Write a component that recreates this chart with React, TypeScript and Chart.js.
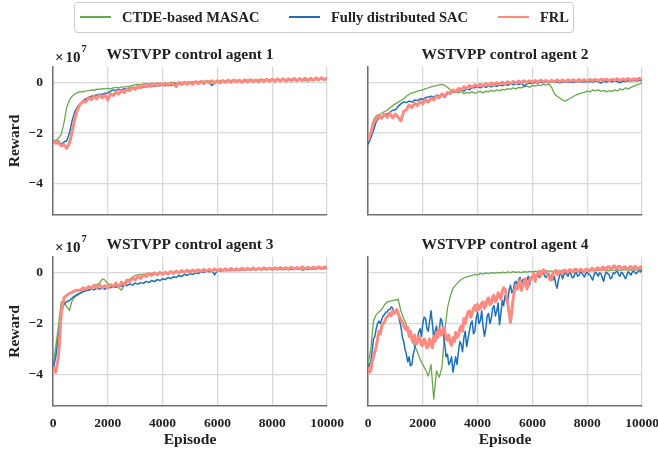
import React, { useEffect, useRef } from "react";
import { Chart, registerables } from "chart.js";
Chart.register(...registerables);

const FONT = "'Liberation Serif', 'Times New Roman', serif";

// Episode axis, every 100 episodes
const EPISODES = [
  0, 100, 200, 300, 400, 500, 600, 700, 800, 900,
  1000, 1100, 1200, 1300, 1400, 1500, 1600, 1700, 1800, 1900,
  2000, 2100, 2200, 2300, 2400, 2500, 2600, 2700, 2800, 2900,
  3000, 3100, 3200, 3300, 3400, 3500, 3600, 3700, 3800, 3900,
  4000, 4100, 4200, 4300, 4400, 4500, 4600, 4700, 4800, 4900,
  5000, 5100, 5200, 5300, 5400, 5500, 5600, 5700, 5800, 5900,
  6000, 6100, 6200, 6300, 6400, 6500, 6600, 6700, 6800, 6900,
  7000, 7100, 7200, 7300, 7400, 7500, 7600, 7700, 7800, 7900,
  8000, 8100, 8200, 8300, 8400, 8500, 8600, 8700, 8800, 8900,
  9000, 9100, 9200, 9300, 9400, 9500, 9600, 9700, 9800, 9900,
  10000,
];
// Episode axis, every 50 episodes (agent 4, noisier curves)
const EPISODES_FINE = [
  0, 50, 100, 150, 200, 250, 300, 350, 400, 450,
  500, 550, 600, 650, 700, 750, 800, 850, 900, 950,
  1000, 1050, 1100, 1150, 1200, 1250, 1300, 1350, 1400, 1450,
  1500, 1550, 1600, 1650, 1700, 1750, 1800, 1850, 1900, 1950,
  2000, 2050, 2100, 2150, 2200, 2250, 2300, 2350, 2400, 2450,
  2500, 2550, 2600, 2650, 2700, 2750, 2800, 2850, 2900, 2950,
  3000, 3050, 3100, 3150, 3200, 3250, 3300, 3350, 3400, 3450,
  3500, 3550, 3600, 3650, 3700, 3750, 3800, 3850, 3900, 3950,
  4000, 4050, 4100, 4150, 4200, 4250, 4300, 4350, 4400, 4450,
  4500, 4550, 4600, 4650, 4700, 4750, 4800, 4850, 4900, 4950,
  5000, 5050, 5100, 5150, 5200, 5250, 5300, 5350, 5400, 5450,
  5500, 5550, 5600, 5650, 5700, 5750, 5800, 5850, 5900, 5950,
  6000, 6050, 6100, 6150, 6200, 6250, 6300, 6350, 6400, 6450,
  6500, 6550, 6600, 6650, 6700, 6750, 6800, 6850, 6900, 6950,
  7000, 7050, 7100, 7150, 7200, 7250, 7300, 7350, 7400, 7450,
  7500, 7550, 7600, 7650, 7700, 7750, 7800, 7850, 7900, 7950,
  8000, 8050, 8100, 8150, 8200, 8250, 8300, 8350, 8400, 8450,
  8500, 8550, 8600, 8650, 8700, 8750, 8800, 8850, 8900, 8950,
  9000, 9050, 9100, 9150, 9200, 9250, 9300, 9350, 9400, 9450,
  9500, 9550, 9600, 9650, 9700, 9750, 9800, 9850, 9900, 9950,
  10000,
];
const X_TICKS = [0, 2000, 4000, 6000, 8000, 10000];
const Y_TICKS = [-4, -2, 0];
const SERIES_NAMES = ["CTDE-based MASAC", "Fully distributed SAC", "FRL"];
const SERIES_COLORS = ["#6aa84f", "#1d6fb8", "#ff8a80"];
const SERIES_WIDTHS = [1.3, 1.5, 3];
const PANEL_TITLES = [
  "WSTVPP control agent 1",
  "WSTVPP control agent 2",
  "WSTVPP control agent 3",
  "WSTVPP control agent 4",
];

// Reward values in units of 1e7
const A1_MASAC = [
  -2.25, -2.3, -2.2, -2.05, -1.6, -1.0, -0.7, -0.55, -0.46, -0.4,
  -0.37, -0.38, -0.34, -0.33, -0.3, -0.32, -0.27, -0.28, -0.25, -0.26,
  -0.24, -0.26, -0.22, -0.2, -0.22, -0.19, -0.18, -0.17, -0.15, -0.12,
  -0.1, -0.08, -0.1, -0.06, -0.05, -0.07, -0.04, -0.05, -0.03, -0.06,
  -0.04, -0.02, -0.05, -0.03, -0.01, -0.04, -0.02, 0, -0.02, 0.01,
  -0.01, 0.02, 0, 0.03, 0.01, 0.04, 0.02, 0.05, 0.02, 0.04,
  0.03, 0.05, 0.03, 0.06, 0.04, 0.07, 0.05, 0.08, 0.05, 0.07,
  0.06, 0.09, 0.05, 0.08, 0.06, 0.09, 0.07, 0.1, 0.06, 0.09,
  0.08, 0.11, 0.07, 0.1, 0.08, 0.11, 0.09, 0.06, 0.1, 0.08,
  0.12, 0.09, 0.05, 0.1, 0.08, 0.11, 0.09, 0.12, 0.1, 0.13,
  0.11,
];
const A1_SAC = [
  -2.3, -2.4, -2.3, -2.45, -2.35, -2.3, -2.0, -1.5, -1.15, -0.95,
  -0.85, -0.72, -0.65, -0.6, -0.55, -0.52, -0.5, -0.47, -0.48, -0.43,
  -0.42, -0.35, -0.3, -0.32, -0.28, -0.3, -0.25, -0.27, -0.22, -0.25,
  -0.2, -0.22, -0.18, -0.2, -0.15, -0.18, -0.13, -0.16, -0.12, -0.14,
  -0.08, -0.14, -0.06, -0.13, -0.04, -0.11, -0.03, -0.09, -0.01, -0.08,
  0, -0.06, 0.02, -0.05, 0.03, -0.04, 0.04, -0.02, -0.13, 0.01,
  0.04, -0.01, 0.06, 0, 0.07, 0.02, 0.06, 0, 0.08, 0.03,
  0.09, 0.02, 0.1, 0.04, 0.09, 0.03, 0.11, 0.05, 0.12, 0.06,
  0.13, 0.05, 0.12, 0.07, 0.14, 0.06, 0.15, 0.08, 0.14, 0.07,
  0.16, 0.08, 0.15, 0.1, 0.17, 0.09, 0.16, 0.11, 0.18, 0.12,
  0.19,
];
const A1_FRL = [
  -2.3, -2.4, -2.35, -2.5, -2.45, -2.6, -2.4, -1.95, -1.4, -1.05,
  -0.85, -0.75, -0.78, -0.6, -0.68, -0.55, -0.65, -0.5, -0.62, -0.5,
  -0.7, -0.45, -0.52, -0.38, -0.46, -0.33, -0.4, -0.27, -0.33, -0.2,
  -0.28, -0.16, -0.22, -0.12, -0.18, -0.1, -0.16, -0.07, -0.13, -0.05,
  -0.12, -0.04, -0.12, -0.02, -0.1, -0.16, 0, -0.09, 0, -0.08,
  0, -0.08, 0.03, -0.06, 0.04, -0.05, 0.05, -0.03, 0.06, -0.04,
  0.06, -0.02, 0.07, 0, 0.08, -0.01, 0.09, 0.01, 0.08, 0,
  0.09, 0.01, 0.1, 0.02, 0.09, 0.02, 0.11, 0.03, 0.12, 0.04,
  0.12, 0.03, 0.13, 0.05, 0.14, 0.04, 0.13, 0.06, 0.15, 0.06,
  0.14, 0.07, 0.16, 0.06, 0.15, 0.08, 0.17, 0.09, 0.18, 0.1,
  0.16,
];

const A2_MASAC = [
  -2.4, -1.95, -1.5, -1.32, -1.28, -1.22, -1.15, -1.1, -1.0, -0.92,
  -0.85, -0.78, -0.72, -0.65, -0.55, -0.48, -0.42, -0.4, -0.35, -0.32,
  -0.3, -0.25, -0.22, -0.18, -0.15, -0.13, -0.1, -0.08, -0.12, -0.2,
  -0.3, -0.35, -0.38, -0.42, -0.36, -0.45, -0.4, -0.43, -0.37, -0.44,
  -0.39, -0.36, -0.42, -0.35, -0.38, -0.32, -0.36, -0.3, -0.34, -0.28,
  -0.3, -0.25, -0.28, -0.22, -0.26, -0.2, -0.22, -0.17, -0.15, -0.2,
  -0.12, -0.15, -0.1, -0.13, -0.08, -0.1, -0.07, -0.2, -0.45, -0.55,
  -0.62, -0.7, -0.74, -0.68, -0.62, -0.55, -0.5, -0.46, -0.42, -0.4,
  -0.35, -0.38, -0.3, -0.34, -0.3, -0.36, -0.32, -0.38, -0.33, -0.37,
  -0.3, -0.34, -0.26, -0.3, -0.22, -0.26, -0.2, -0.15, -0.1, -0.08,
  -0.02,
];
const A2_SAC = [
  -2.45, -2.2, -1.9, -1.55, -1.4, -1.35, -1.28, -1.25, -1.18, -1.1,
  -1.08, -0.95, -0.85, -0.78, -0.8, -0.74, -0.78, -0.7, -0.72, -0.65,
  -0.68, -0.6, -0.58, -0.55, -0.6, -0.5, -0.55, -0.48, -0.6, -0.45,
  -0.42, -0.38, -0.4, -0.33, -0.3, -0.35, -0.25, -0.3, -0.2, -0.22,
  -0.18, -0.22, -0.15, -0.2, -0.14, -0.18, -0.12, -0.16, -0.1, -0.14,
  -0.08, -0.12, -0.06, -0.1, -0.05, -0.09, -0.04, -0.15, -0.06, -0.03,
  -0.05, 0, -0.03, 0.01, -0.02, 0.02, -0.01, 0.03, 0, 0.02,
  -0.02, 0.02, 0, 0.03, -0.01, 0.02, 0, 0.04, 0.01, 0.03,
  0, 0.04, 0.01, 0.05, 0.02, -0.03, 0.04, 0.01, 0.05, 0.02,
  0.06, 0.03, -0.02, 0.05, 0.03, 0.07, 0.04, 0.08, 0.05, 0.08,
  0.06,
];
const A2_FRL = [
  -2.3, -2.0, -1.6, -1.45, -1.3, -1.42, -1.25, -1.38, -1.22, -1.4,
  -1.25, -1.38, -1.52, -1.15, -1.08, -0.9, -1.0, -0.82, -0.92, -0.76,
  -0.85, -0.68, -0.78, -0.62, -0.7, -0.55, -0.62, -0.46, -0.54, -0.4,
  -0.45, -0.3, -0.38, -0.24, -0.3, -0.18, -0.25, -0.13, -0.2, -0.1,
  -0.16, -0.08, -0.14, -0.05, -0.12, -0.03, -0.1, -0.02, -0.08, 0,
  -0.07, 0.02, -0.05, 0.03, -0.04, 0.05, -0.02, 0.06, -0.01, 0.06,
  0, 0.07, 0.01, 0.08, 0.02, 0.07, 0, 0.08, 0.02, 0.09,
  0.03, 0.09, 0.02, 0.1, 0.04, 0.1, 0.03, 0.11, 0.05, 0.1,
  0.04, 0.11, 0.06, 0.12, 0.05, 0.12, 0.07, 0.13, 0.06, 0.12,
  0.08, 0.14, 0.07, 0.13, 0.09, 0.15, 0.08, 0.14, 0.1, 0.15,
  0.12,
];

const A3_MASAC = [
  -3.6, -2.9, -2.1, -1.15, -1.12, -1.35, -1.48, -1.1, -0.95, -0.9,
  -0.82, -0.75, -0.7, -0.68, -0.6, -0.5, -0.48, -0.42, -0.25, -0.3,
  -0.45, -0.5, -0.55, -0.5, -0.6, -0.7, -0.5, -0.4, -0.25, -0.2,
  -0.12, -0.1, -0.08, -0.1, -0.06, -0.08, -0.04, -0.02, -0.05, 0,
  -0.02, 0.01, -0.01, 0.02, 0, 0.03, 0.01, 0.04, 0.02, 0.05,
  0.03, 0.06, 0.04, 0.07, 0.05, 0.08, 0.06, 0.09, 0.07, 0.1,
  0.08, 0.1, 0.07, 0.11, 0.08, 0.12, 0.09, 0.11, 0.08, 0.12,
  0.1, 0.13, 0.09, 0.12, 0.1, 0.14, 0.11, 0.13, 0.1, 0.14,
  0.12, 0.15, 0.11, 0.14, 0.12, 0.15, 0.1, 0.14, 0.12, 0.16,
  0.13, 0.08, 0.12, 0.15, 0.11, 0.14, 0.12, 0.16, 0.13, 0.15,
  0.14,
];
const A3_SAC = [
  -3.8, -3.3, -2.5, -1.6, -1.25, -1.15, -1.1, -1.0, -0.92, -0.85,
  -0.8, -0.75, -0.72, -0.7, -0.65, -0.68, -0.62, -0.65, -0.6, -0.66,
  -0.58, -0.6, -0.55, -0.58, -0.5, -0.55, -0.48, -0.52, -0.45, -0.5,
  -0.42, -0.46, -0.4, -0.43, -0.35, -0.4, -0.32, -0.36, -0.28, -0.32,
  -0.25, -0.28, -0.2, -0.24, -0.17, -0.2, -0.12, -0.16, -0.08, -0.12,
  -0.05, -0.08, -0.02, -0.05, 0.02, 0, 0.05, 0.02, 0.06, -0.1,
  0.08, 0.05, 0.1, 0.06, 0.1, 0.07, 0.11, 0.08, 0.12, 0.09,
  0.13, 0.1, 0.14, 0.11, 0.15, 0.12, 0.14, 0.11, 0.15, 0.13,
  0.16, 0.12, 0.15, 0.13, 0.17, 0.14, 0.16, 0.12, 0.17, 0.14,
  0.18, 0.15, 0.17, 0.13, 0.18, 0.15, 0.19, 0.16, 0.18, 0.17,
  0.2,
];
const A3_FRL = [
  -3.7, -3.9, -3.3, -1.6, -1.0, -0.9, -0.82, -0.78, -0.72, -0.7,
  -0.7, -0.6, -0.66, -0.55, -0.62, -0.5, -0.6, -0.48, -0.6, -0.52,
  -0.6, -0.48, -0.56, -0.42, -0.58, -0.38, -0.48, -0.3, -0.36, -0.22,
  -0.3, -0.16, -0.24, -0.1, -0.16, -0.04, -0.12, -0.02, -0.1, 0,
  -0.08, 0, -0.06, 0.03, -0.04, 0.05, -0.02, 0.07, 0, 0.08,
  0.01, 0.09, 0.03, 0.1, 0.04, 0.11, 0.05, 0.12, 0.05, 0.13,
  0.06, 0.13, 0.07, 0.14, 0.07, 0.15, 0.08, 0.14, 0.09, 0.16,
  0.09, 0.16, 0.1, 0.17, 0.1, 0.16, 0.11, 0.18, 0.12, 0.17,
  0.11, 0.18, 0.12, 0.19, 0.12, 0.18, 0.13, 0.2, 0.13, 0.19,
  0.14, 0.21, 0.13, 0.2, 0.15, 0.21, 0.14, 0.22, 0.15, 0.21,
  0.18,
];

const A4_MASAC = [
  -3.6, -3.0, -1.9, -1.65, -1.55, -1.45, -1.27, -1.15, -1.12, -1.1,
  -1.08, -1.05, -1.5, -1.8, -2.05, -2.4, -2.7, -2.85, -3.1, -3.4,
  -3.6, -3.8, -4.05, -3.6, -4.95, -3.85, -4.1, -3.7, -2.3, -1.4,
  -0.95, -0.62, -0.5, -0.38, -0.28, -0.22, -0.18, -0.15, -0.12, -0.08,
  -0.1, -0.04, -0.07, -0.02, -0.05, -0.01, -0.04, 0, -0.03, 0.01,
  -0.02, 0.02, -0.01, 0.03, 0, 0.02, -0.01, 0.03, 0.01, 0.04,
  0.02, 0.05, 0.02, 0.06, 0.03, 0.07, 0.04, 0.06, 0.03, 0.07,
  0.05, 0.08, 0.04, 0.07, 0.05, 0.09, 0.06, 0.08, 0.05, 0.09,
  0.07, 0.1, 0.06, 0.09, 0.07, 0.11, 0.08, 0.1, 0.06, 0.1,
  0.08, 0.12, 0.07, 0.11, 0.09, 0.12, 0.08, 0.11, 0.1, 0.13,
  0.12,
];
const A4_SAC = [
  -3.8, -3.6, -3.5, -3.1, -2.6, -2.5, -2.2, -2.0, -1.9, -2.0,
  -1.85, -1.7, -1.65, -1.55, -1.55, -1.45, -1.45, -1.35, -1.4, -1.55,
  -1.5, -1.45, -1.6, -1.9, -2.1, -2.5, -2.7, -3.0, -3.2, -3.5,
  -3.3, -3.65, -3.6, -3.2, -3.0, -2.7, -2.6, -2.35, -2.2, -2.5,
  -2.0, -1.75, -1.8, -2.2, -2.3, -1.9, -1.5, -2.0, -2.6, -2.3,
  -2.1, -2.5, -2.3, -1.8, -1.9, -2.4, -2.8, -3.3, -3.2, -3.6,
  -3.5, -3.3, -3.9, -3.6, -3.3, -3.6, -3.1, -2.7, -2.8, -3.1,
  -2.55, -2.3, -2.9, -2.6, -2.3, -2.0, -1.9, -2.4, -2.3, -1.8,
  -1.55, -2.0, -1.9, -1.5, -2.1, -2.5, -2.2, -1.7, -1.6, -2.0,
  -1.8, -1.4, -1.3, -1.7, -1.5, -1.2, -2.05, -1.6, -1.1, -1.3,
  -0.9, -1.1, -1.2, -0.7, -0.5, -0.8, -0.7, -0.4, -0.35, -0.55,
  -0.28, -0.2, -0.45, -0.3, -0.25, -0.4, -0.3, -0.15, -0.5, -0.25,
  -0.15, -0.05, -0.3, -0.1, -0.05, -0.2, -0.15, 0.02, 0, -0.15,
  -0.2, -0.05, -0.05, -0.2, -0.1, -0.3, -0.15, -0.45, -0.62, -0.3,
  -0.1, -0.05, -0.25, -0.1, 0, -0.08, -0.15, 0.02, -0.05, -0.2,
  -0.2, -0.05, 0, -0.15, -0.12, 0.02, -0.02, -0.1, -0.18, -0.05,
  0.02, -0.08, -0.1, -0.2, -0.3, -0.1, 0, -0.05, -0.15, -0.02,
  -0.05, -0.2, -0.35, -0.1, 0.02, -0.05, -0.1, -0.25, -0.2, -0.02,
  -0.05, 0.02, 0.05, -0.1, -0.15, 0, -0.05, -0.15, -0.25, -0.1,
  0.03, -0.05, -0.1, 0.02, 0.05, -0.02, -0.05, 0.05, 0.08, 0.02,
  0.1,
];
const A4_FRL = [
  -3.7, -3.9, -3.85, -3.5, -3.3, -3.1, -2.9, -2.6, -2.3, -2.4,
  -2.1, -2.0, -1.95, -1.8, -1.75, -1.65, -1.6, -1.7, -1.5, -1.6,
  -1.55, -1.45, -1.6, -1.75, -1.85, -1.95, -2.05, -2.2, -2.25, -2.15,
  -2.5, -2.3, -2.6, -2.7, -2.45, -2.8, -2.75, -2.5, -2.6, -2.85,
  -2.85, -2.6, -2.7, -2.95, -2.9, -2.6, -2.75, -2.95, -2.5, -2.7,
  -2.35, -2.55, -2.2, -2.45, -2.4, -2.15, -2.3, -2.6, -2.65, -2.45,
  -2.75, -2.85, -2.55, -2.7, -2.35, -2.55, -2.45, -2.2, -2.1, -2.3,
  -1.8, -2.0, -1.75, -1.55, -1.5, -1.75, -1.6, -1.4, -1.3, -1.5,
  -1.25, -1.45, -1.4, -1.2, -1.15, -1.4, -1.3, -1.05, -1.0, -1.25,
  -1.2, -0.95, -0.9, -1.15, -1.05, -0.8, -0.85, -1.05, -0.75, -0.6,
  -0.65, -0.9, -1.2, -1.6, -1.95, -1.5, -1.0, -0.7, -0.5, -0.65,
  -0.45, -0.3, -0.7, -0.55, -0.4, -0.25, -0.65, -0.5, -0.3, -0.2,
  -0.2, -0.05, -0.35, -0.15, -0.05, 0.05, -0.15, -0.02, 0.1, 0.05,
  0, -0.1, -0.15, -0.3, -0.28, -0.05, 0, 0.08, -0.1, 0.02,
  0.05, -0.02, -0.05, 0.08, 0.08, 0.02, 0, 0.1, 0.1, 0.03,
  0.02, 0.12, 0.12, 0.05, 0.05, 0.13, 0.1, 0.04, 0.02, 0.12,
  0.12, 0.05, 0.06, 0.15, 0.15, 0.08, 0.08, 0.16, 0.18, 0.1,
  0.1, 0.2, 0.2, 0.12, 0.12, 0.22, 0.22, 0.14, 0.15, 0.24,
  0.25, 0.16, 0.18, 0.24, 0.22, 0.14, 0.15, 0.22, 0.2, 0.12,
  0.14, 0.22, 0.22, 0.15, 0.16, 0.24, 0.2, 0.13, 0.15, 0.22,
  0.2,
];

const CW = 700;
const CH = 456;

type SeriesSpec = { x: number[]; y: number[] };
type PanelSpec = {
  title: string;
  left: number;
  top: number;
  right: number;
  bottom: number;
  xLabels: boolean;
  yLabels: boolean;
  series: SeriesSpec[];
};

const PANELS: PanelSpec[] = [
  {
    title: PANEL_TITLES[0], left: 53, top: 67, right: 327, bottom: 215, xLabels: false, yLabels: true,
    series: [{ x: EPISODES, y: A1_MASAC }, { x: EPISODES, y: A1_SAC }, { x: EPISODES, y: A1_FRL }],
  },
  {
    title: PANEL_TITLES[1], left: 368, top: 67, right: 642, bottom: 215, xLabels: false, yLabels: false,
    series: [{ x: EPISODES, y: A2_MASAC }, { x: EPISODES, y: A2_SAC }, { x: EPISODES, y: A2_FRL }],
  },
  {
    title: PANEL_TITLES[2], left: 53, top: 257, right: 327, bottom: 406, xLabels: true, yLabels: true,
    series: [{ x: EPISODES, y: A3_MASAC }, { x: EPISODES, y: A3_SAC }, { x: EPISODES, y: A3_FRL }],
  },
  {
    title: PANEL_TITLES[3], left: 368, top: 257, right: 642, bottom: 406, xLabels: true, yLabels: false,
    series: [{ x: EPISODES, y: A4_MASAC }, { x: EPISODES_FINE, y: A4_SAC }, { x: EPISODES_FINE, y: A4_FRL }],
  },
];

const panelTextPlugin = {
  id: "panelText",
  afterDraw(chart: any, _args: any, opts: any) {
    const { ctx, chartArea } = chart;
    ctx.save();
    ctx.fillStyle = "#222222";
    ctx.font = `bold 15.5px ${FONT}`;
    ctx.textAlign = "center";
    ctx.textBaseline = "middle";
    ctx.fillText(opts.title, (chartArea.left + chartArea.right) / 2, chartArea.top - 12);
    if (opts.exponent) {
      ctx.textAlign = "left";
      ctx.textBaseline = "alphabetic";
      ctx.font = `bold 15px ${FONT}`;
      const x0 = chartArea.left + 2;
      const yb = chartArea.top - 5;
      ctx.fillText("×", x0, yb);
      const wx = ctx.measureText("×").width;
      ctx.fillText("10", x0 + wx + 2, yb);
      const w10 = ctx.measureText("10").width;
      ctx.font = `bold 10.5px ${FONT}`;
      ctx.fillText("7", x0 + wx + 2 + w10 + 1, chartArea.top - 15);
    }
    ctx.restore();
  },
};

function Panel({ spec }: { spec: PanelSpec }) {
  const ref = useRef<HTMLCanvasElement>(null);
  useEffect(() => {
    if (!ref.current) return;
    const yW = spec.yLabels ? spec.left : 10;
    const xH = spec.xLabels ? CH - spec.bottom : 0;
    const datasets = spec.series.map((s, si) => ({
      label: SERIES_NAMES[si],
      data: s.x.map((x, i) => ({ x, y: s.y[i] })),
      borderColor: SERIES_COLORS[si],
      backgroundColor: SERIES_COLORS[si],
      borderWidth: SERIES_WIDTHS[si],
      pointRadius: 0,
      tension: 0,
      fill: false,
      borderJoinStyle: "round" as const,
      order: 2 - si,
    }));
    const gridColor = "#d8d8d8";
    const spine = { display: true, color: "#707070", width: 1.5 };
    const chart = new Chart(ref.current, {
      type: "line",
      data: { datasets },
      plugins: [panelTextPlugin],
      options: {
        animation: false,
        responsive: false,
        devicePixelRatio: 1,
        layout: {
          padding: {
            left: spec.left - yW,
            top: spec.top,
            right: CW - spec.right,
            bottom: CH - spec.bottom - xH,
          },
        },
        plugins: {
          legend: { display: false },
          tooltip: { enabled: false },
          panelText: { title: spec.title, exponent: spec.yLabels },
        } as any,
        scales: {
          x: {
            type: "linear",
            min: 0,
            max: 10000,
            afterBuildTicks: (s: any) => {
              s.ticks = X_TICKS.map((v) => ({ value: v }));
            },
            afterFit: (s: any) => {
              s.height = xH;
            },
            ticks: {
              display: spec.xLabels,
              autoSkip: false,
              maxRotation: 0,
              padding: 9,
              color: "#222222",
              font: { family: FONT, size: 13.5, weight: "bold" },
              callback: (v: any) => String(v),
            },
            grid: { color: gridColor, lineWidth: 1.3, drawTicks: false },
            border: spine,
            title: {
              display: spec.xLabels,
              text: "Episode",
              color: "#222222",
              font: { family: FONT, size: 15.5, weight: "bold" },
              padding: { top: 0, bottom: 7 },
            },
          },
          y: {
            type: "linear",
            min: -5.22,
            max: 0.6,
            afterBuildTicks: (s: any) => {
              s.ticks = Y_TICKS.map((v) => ({ value: v }));
            },
            afterFit: (s: any) => {
              s.width = yW;
            },
            ticks: {
              display: spec.yLabels,
              padding: 10,
              color: "#222222",
              font: { family: FONT, size: 13.5, weight: "bold" },
              callback: (v: any) => (Number(v) < 0 ? "\u2212" + Math.abs(Number(v)) : String(v)),
            },
            grid: { color: gridColor, lineWidth: 1.3, drawTicks: false },
            border: spine,
            title: {
              display: spec.yLabels,
              text: "Reward",
              color: "#222222",
              font: { family: FONT, size: 15.5, weight: "bold" },
              padding: { top: 6, bottom: 0 },
            },
          },
        },
      },
    });
    return () => chart.destroy();
  }, [spec]);
  return (
    <canvas
      ref={ref}
      width={CW}
      height={CH}
      style={{ position: "absolute", left: 0, top: 0, width: CW, height: CH }}
    />
  );
}

const LEGEND_ITEMS = [
  { line: 80, text: 122 },
  { line: 289, text: 331 },
  { line: 498, text: 540 },
];

function Legend() {
  return (
    <div>
      <div
        style={{
          position: "absolute",
          left: 74,
          top: 2,
          width: 500,
          height: 31,
          border: "1px solid #cccccc",
          borderRadius: 4,
          boxSizing: "border-box",
          background: "rgba(255,255,255,0.8)",
        }}
      />
      {SERIES_NAMES.map((name, i) => (
        <React.Fragment key={name}>
          <div
            style={{
              position: "absolute",
              left: LEGEND_ITEMS[i].line,
              top: 16,
              width: 31,
              height: 2,
              background: SERIES_COLORS[i],
            }}
          />
          <div
            style={{
              position: "absolute",
              left: LEGEND_ITEMS[i].text,
              top: 7,
              height: 20,
              lineHeight: "20px",
              fontFamily: FONT,
              fontWeight: "bold",
              fontSize: 14.5,
              color: "#222222",
              whiteSpace: "nowrap",
            }}
          >
            {name}
          </div>
        </React.Fragment>
      ))}
    </div>
  );
}

export default function App() {
  return (
    <div
      style={{
        position: "fixed",
        left: 0,
        top: 0,
        width: 658,
        height: 456,
        overflow: "hidden",
        background: "#ffffff",
      }}
    >
      {PANELS.map((p, i) => (
        <Panel key={i} spec={p} />
      ))}
      <Legend />
    </div>
  );
}
